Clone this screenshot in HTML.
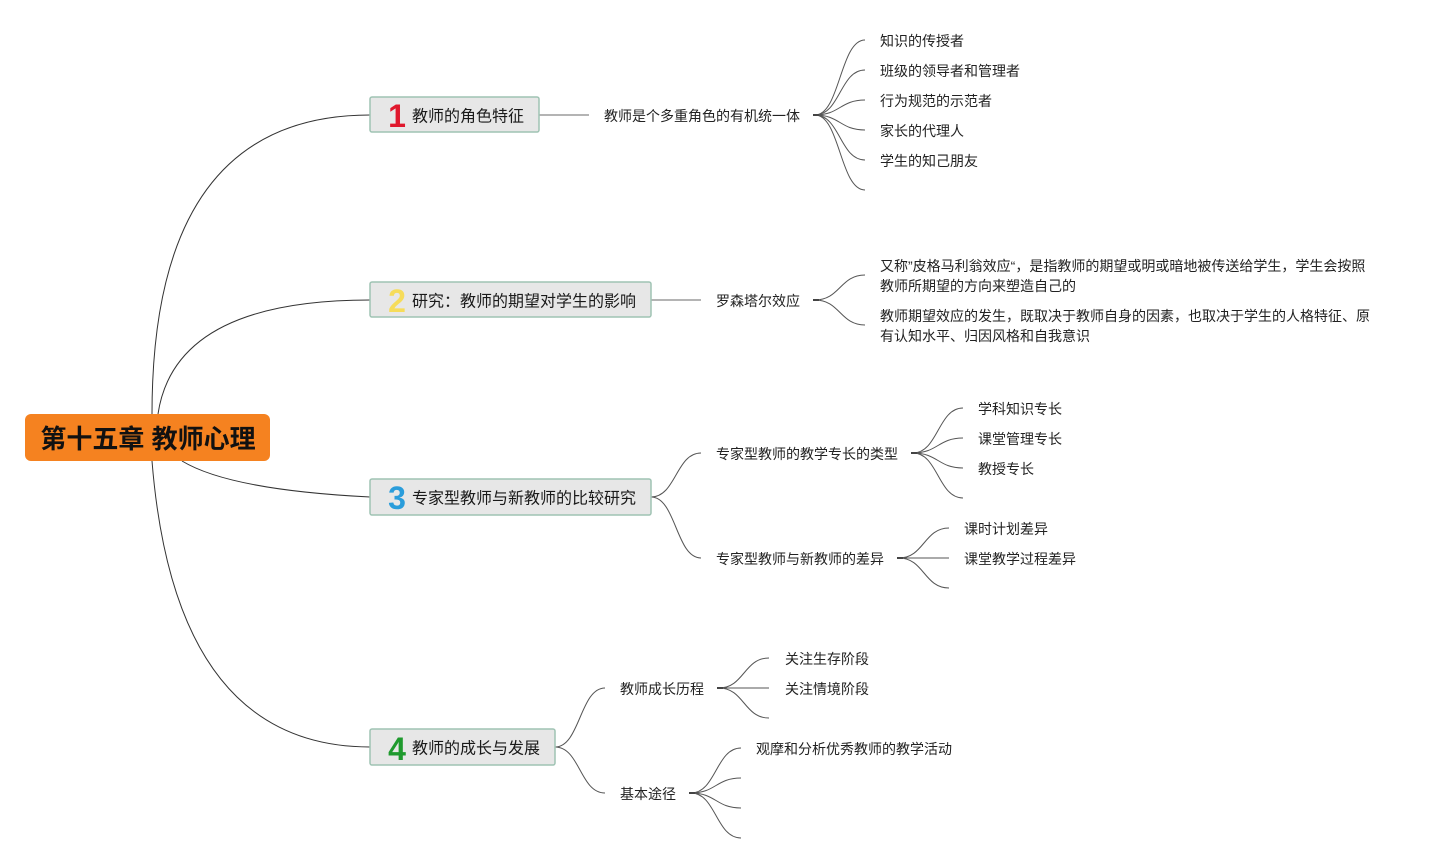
<!DOCTYPE html>
<html><head><meta charset="utf-8"><style>
html,body{margin:0;padding:0;background:#fff;}
svg{display:block;}
text{font-family:"Liberation Sans","Noto Sans CJK SC",sans-serif;fill:#222;}
.l{font-size:14px;}
.m{font-size:16px;fill:#1a1a1a;}
.n{font-size:32px;font-weight:bold;}
</style></head><body>
<svg width="1440" height="863" viewBox="0 0 1440 863" xmlns="http://www.w3.org/2000/svg">
<g fill="none" stroke="#333" stroke-width="1">
<path d="M152 414 Q152 115 370 115"/>
<path d="M158 414 Q175 300 370 300"/>
<path d="M182 461 Q230 490 370 497"/>
<path d="M152 461 Q175 747 370 747"/>
</g>
<g fill="none" stroke="#888" stroke-width="1.3">
<path d="M539 115 H589"/>
<path d="M651 300 H701"/>
</g>
<g fill="none" stroke="#555" stroke-width="1">
<path d="M651 497 C676 497 676 453 701 453"/>
<path d="M651 497 C676 497 676 558 701 558"/>
<path d="M555 747 C580 747 580 688 605 688"/>
<path d="M555 747 C580 747 580 793 605 793"/>
<path d="M815 115 C840 115 840 40 865 40"/>
<path d="M815 115 C840 115 840 70 865 70"/>
<path d="M815 115 C840 115 840 100 865 100"/>
<path d="M815 115 C840 115 840 130 865 130"/>
<path d="M815 115 C840 115 840 160 865 160"/>
<path d="M815 115 C840 115 840 190 865 190"/>
<path d="M815 300 C840 300 840 275 865 275"/>
<path d="M815 300 C840 300 840 325 865 325"/>
<path d="M913 453 C938 453 938 408 963 408"/>
<path d="M913 453 C938 453 938 438 963 438"/>
<path d="M913 453 C938 453 938 468 963 468"/>
<path d="M913 453 C938 453 938 498 963 498"/>
<path d="M899 558 C924 558 924 528 949 528"/>
<path d="M899 558 H949"/>
<path d="M899 558 C924 558 924 588 949 588"/>
<path d="M719 688 C744 688 744 658 769 658"/>
<path d="M719 688 H769"/>
<path d="M719 688 C744 688 744 718 769 718"/>
<path d="M691 793 C716 793 716 748 741 748"/>
<path d="M691 793 C716 793 716 778 741 778"/>
<path d="M691 793 C716 793 716 808 741 808"/>
<path d="M691 793 C716 793 716 838 741 838"/>
</g>
<g stroke="#444" stroke-width="2">
<path d="M813 115 H819"/><path d="M813 300 H819"/><path d="M911 453 H917"/><path d="M897 558 H903"/><path d="M717 688 H723"/><path d="M689 793 H695"/>
</g>

<rect x="25" y="414" width="245" height="47" rx="6" fill="#f58220"/>
<text x="148" y="439" text-anchor="middle" dominant-baseline="central" style="font-size:26px;font-weight:bold;fill:#111;">第十五章 教师心理</text>

<g fill="#e7e7e7" stroke="#9fc3b3" stroke-width="1.5">
<rect x="370" y="97" width="169" height="35" rx="2"/>
<rect x="370" y="282" width="281" height="35" rx="2"/>
<rect x="370" y="479" width="281" height="36" rx="2"/>
<rect x="370" y="729" width="185" height="36" rx="2"/>
</g>
<text class="n" x="397" y="127" text-anchor="middle" style="fill:#e0182d;">1</text>
<text class="n" x="397" y="312" text-anchor="middle" style="fill:#f6dc5a;">2</text>
<text class="n" x="397" y="509" text-anchor="middle" style="fill:#2a9ddb;">3</text>
<text class="n" x="397" y="760" text-anchor="middle" style="fill:#1f9a2e;">4</text>
<text class="m" x="412" y="117" dominant-baseline="central">教师的角色特征</text>
<text class="m" x="412" y="302" dominant-baseline="central">研究：教师的期望对学生的影响</text>
<text class="m" x="412" y="499" dominant-baseline="central">专家型教师与新教师的比较研究</text>
<text class="m" x="412" y="749" dominant-baseline="central">教师的成长与发展</text>

<text class="l" x="604" y="116" dominant-baseline="central">教师是个多重角色的有机统一体</text>
<text class="l" x="716" y="301" dominant-baseline="central">罗森塔尔效应</text>
<text class="l" x="716" y="454" dominant-baseline="central">专家型教师的教学专长的类型</text>
<text class="l" x="716" y="559" dominant-baseline="central">专家型教师与新教师的差异</text>
<text class="l" x="620" y="689" dominant-baseline="central">教师成长历程</text>
<text class="l" x="620" y="794" dominant-baseline="central">基本途径</text>

<text class="l" x="880" y="41" dominant-baseline="central">知识的传授者</text>
<text class="l" x="880" y="71" dominant-baseline="central">班级的领导者和管理者</text>
<text class="l" x="880" y="101" dominant-baseline="central">行为规范的示范者</text>
<text class="l" x="880" y="131" dominant-baseline="central">家长的代理人</text>
<text class="l" x="880" y="161" dominant-baseline="central">学生的知己朋友</text>

<text class="l" x="880" y="266" dominant-baseline="central">又称”皮格马利翁效应“，是指教师的期望或明或暗地被传送给学生，学生会按照</text>
<text class="l" x="880" y="286" dominant-baseline="central">教师所期望的方向来塑造自己的</text>
<text class="l" x="880" y="316" dominant-baseline="central">教师期望效应的发生，既取决于教师自身的因素，也取决于学生的人格特征、原</text>
<text class="l" x="880" y="336" dominant-baseline="central">有认知水平、归因风格和自我意识</text>

<text class="l" x="978" y="409" dominant-baseline="central">学科知识专长</text>
<text class="l" x="978" y="439" dominant-baseline="central">课堂管理专长</text>
<text class="l" x="978" y="469" dominant-baseline="central">教授专长</text>

<text class="l" x="964" y="529" dominant-baseline="central">课时计划差异</text>
<text class="l" x="964" y="559" dominant-baseline="central">课堂教学过程差异</text>

<text class="l" x="785" y="659" dominant-baseline="central">关注生存阶段</text>
<text class="l" x="785" y="689" dominant-baseline="central">关注情境阶段</text>

<text class="l" x="756" y="749" dominant-baseline="central">观摩和分析优秀教师的教学活动</text>
</svg>
</body></html>
